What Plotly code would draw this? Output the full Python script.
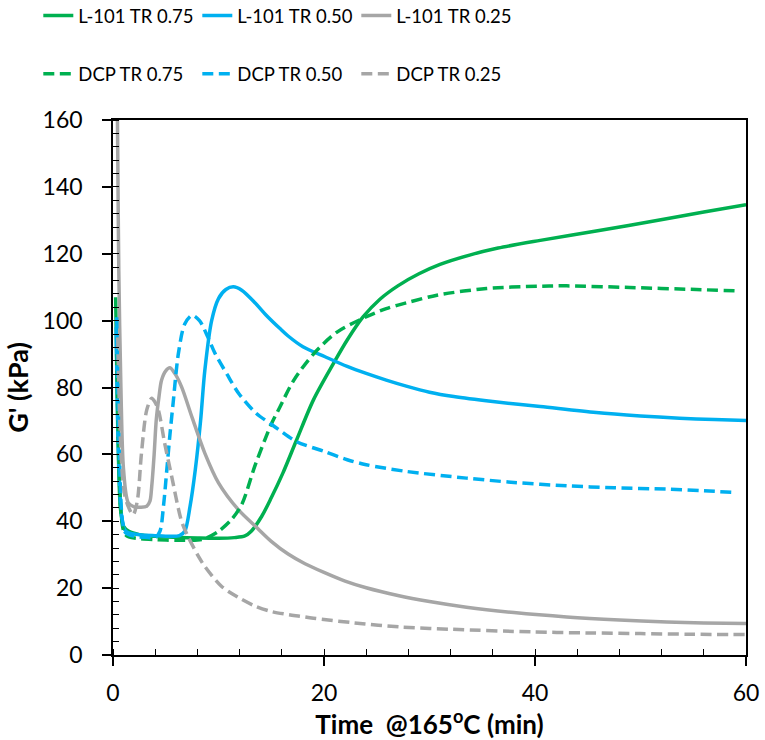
import plotly.graph_objects as go

# ---------------- data ----------------
t_l075 = [0.25, 0.45, 0.7, 1.0, 1.5, 2.5, 4, 6, 8, 10, 11.5, 12.5, 13.1, 14.1, 15.0, 16.1,
          17.4, 19.0, 20.9, 22.2, 23.7, 25.3, 27, 29, 31, 33.8, 36.5, 40.5, 45.8, 52.2, 56, 60]
g_l075 = [107, 70, 44, 38.5, 37, 36, 35.5, 35.2, 35, 34.9, 35.1, 35.6, 37, 41.5, 47, 54.4,
          64.3, 76.3, 87.2, 94.2, 101.1, 106.4, 110.4, 114.0, 116.8, 119.6, 121.7, 124, 126.8, 130.3, 132.5, 134.7]

t_l050 = [0.3, 0.5, 0.8, 1.1, 1.5, 2.5, 4, 5.5, 6.3, 6.8, 7.3, 7.8, 8.3, 8.7, 9.35, 10, 10.7,
          11.4, 12.2, 13.5, 14.5, 15.8, 16.6, 18, 20.1, 22.2, 24, 25.9, 27.8, 30, 32.3, 36,
          40.5, 45.8, 50, 53.7, 57, 60]
g_l050 = [98, 62, 42, 37.5, 36.5, 36, 35.7, 35.5, 35.7, 37, 44.4, 55.4, 70, 85, 100, 106.6, 109.3,
          110.1, 109.1, 105.2, 101.7, 97.7, 95.4, 92.2, 89.2, 86.3, 84.2, 82.2, 80.4, 78.6, 77.3, 75.8,
          74.3, 72.5, 71.5, 70.8, 70.4, 70.1]

t_l025 = [0.38, 0.45, 0.55, 0.75, 1.0, 1.45, 2.0, 2.6, 3.2, 3.5, 3.67, 3.9, 4.1, 4.35, 4.6, 5.0,
          5.4, 5.9, 6.5, 7.5, 8.7, 10, 11.9, 13.5, 15, 16.6, 18.2, 20, 22, 24, 27, 30, 33.5,
          38, 43, 48, 52.5, 56, 60]
g_l025 = [175, 150, 115, 80, 55.4, 45.5, 44.3, 44.2, 44.5, 46, 50.4, 60, 70.3, 77, 82.2, 85,
          85.9, 84, 80.2, 71, 60.4, 51.5, 43.4, 38.5, 34, 30.2, 27.3, 24.7, 22.1, 20.1, 17.8, 16, 14.3,
          12.7, 11.4, 10.5, 9.9, 9.6, 9.4]

t_d075 = [0.35, 0.55, 0.8, 1.1, 1.5, 2.5, 4, 6, 8, 8.7, 10, 11.2, 12.2, 13.5, 15, 15.8, 17.1,
          19, 21.2, 23.7, 25.9, 27.8, 30.7, 35.4, 40.5, 43, 49, 55.3, 59.1]
g_d075 = [90, 60, 41, 36.3, 35.3, 34.8, 34.5, 34.3, 34.4, 34.8, 37, 40.4, 45, 57, 69, 74, 82,
          90, 96.5, 100.7, 103.6, 105.3, 107.6, 109.6, 110.3, 110.4, 109.9, 109.3, 108.9]

t_d050 = [0.35, 0.6, 0.9, 1.2, 2, 3, 4, 4.45, 4.8, 5.1, 5.4, 5.7, 6.2, 6.8, 7.5, 8.2, 9, 9.67,
          10.8, 11.9, 13.5, 15, 15.8, 17.4, 20.1, 22.2, 24, 27.8, 33.5, 38, 43, 47.5, 52.5, 56, 59.1]
g_d050 = [101, 60, 40, 36.5, 35.5, 35.2, 35.1, 37, 45, 55.4, 66, 75.4, 90.2, 99, 101.6, 100, 95,
          90.2, 84, 78.3, 72.5, 69, 67.2, 63.8, 60.8, 58.4, 56.9, 54.9, 52.9, 51.6, 50.6, 50,
          49.6, 49.1, 48.6]

t_d025 = [0.45, 0.6, 0.8, 1.1, 1.5, 1.9, 2.3, 2.7, 3.2, 3.67, 4.0, 4.3, 4.9, 5.56, 6.5, 7.1,
          8.1, 8.7, 10.3, 12, 13.5, 15, 16.6, 17.7, 19, 22.9, 27.2, 32, 39.8, 45, 50, 55, 60]
g_d025 = [95, 75, 58, 48, 44, 41.9, 46, 60.4, 73.3, 76.8, 75.5, 73.3, 63.3, 53.4, 40, 35.5,
          29.5, 26.5, 20.5, 17, 14.6, 13, 12.1, 11.6, 11, 9.6, 8.4, 7.7, 6.9, 6.6, 6.4, 6.2, 6.1]

names_row1 = ["L-101 TR 0.75", "L-101 TR 0.50", "L-101 TR 0.25"]
names_row2 = ["DCP TR 0.75", "DCP TR 0.50", "DCP TR 0.25"]
colors = ["#00B050", "#00B0F0", "#A6A6A6"]

x_ticks = [0, 20, 40, 60]
y_ticks = [0, 20, 40, 60, 80, 100, 120, 140, 160]

FONT = "Lato, 'Open Sans', sans-serif"
LW = 3.5
DASH = "11px,5.5px"

fig = go.Figure()
solid = [(t_l075, g_l075), (t_l050, g_l050), (t_l025, g_l025)]
dashed = [(t_d075, g_d075), (t_d050, g_d050), (t_d025, g_d025)]

for (tx, gy), nm, c in zip(solid, names_row1, colors):
    fig.add_trace(go.Scatter(x=tx, y=gy, name=nm, mode="lines", legend="legend",
                             line=dict(color=c, width=LW, shape="spline", smoothing=0.85)))
for (tx, gy), nm, c in zip(dashed, names_row2, colors):
    fig.add_trace(go.Scatter(x=tx, y=gy, name=nm, mode="lines", legend="legend2",
                             line=dict(color=c, width=LW, dash=DASH, shape="spline", smoothing=0.85)))

axis_common = dict(
    showline=True, linecolor="black", linewidth=1.5, mirror=True,
    showgrid=False, zeroline=False,
    ticks="outside", ticklen=9, tickwidth=1.5, tickcolor="black",
    tickfont=dict(family=FONT, size=23, color="black"),
    minor=dict(ticks="inside", ticklen=6, tickwidth=1.2, tickcolor="black", dtick=4, showgrid=False),
)

fig.update_layout(
    width=765, height=740,
    margin=dict(l=113, r=19, t=120, b=85, autoexpand=False),
    paper_bgcolor="white", plot_bgcolor="white",
    font=dict(family=FONT, size=18.5, color="black"),
    xaxis=dict(range=[0, 60], tickmode="array", tickvals=x_ticks,
               title=dict(text="<b>Time\u00a0 @165<sup>o</sup>C (min)</b>", font=dict(family=FONT, size=26), standoff=6),
               ticklabelstandoff=8, **axis_common),
    yaxis=dict(range=[0, 160], tickmode="array", tickvals=y_ticks,
               title=dict(text="<b>G' (kPa)</b>", font=dict(family=FONT, size=27), standoff=6),
               ticklabelstandoff=15, **axis_common),
    legend=dict(orientation="h", x=-0.118, xanchor="left", y=1.23, yanchor="top",
                font=dict(family=FONT, size=18.5), entrywidth=114, bgcolor="rgba(0,0,0,0)",
                tracegroupgap=0, itemwidth=30),
    legend2=dict(orientation="h", x=-0.118, xanchor="left", y=1.121, yanchor="top",
                 font=dict(family=FONT, size=18.5), entrywidth=114, bgcolor="rgba(0,0,0,0)",
                 tracegroupgap=0, itemwidth=30),
    showlegend=True,
)

fig.write_html("out.html")
